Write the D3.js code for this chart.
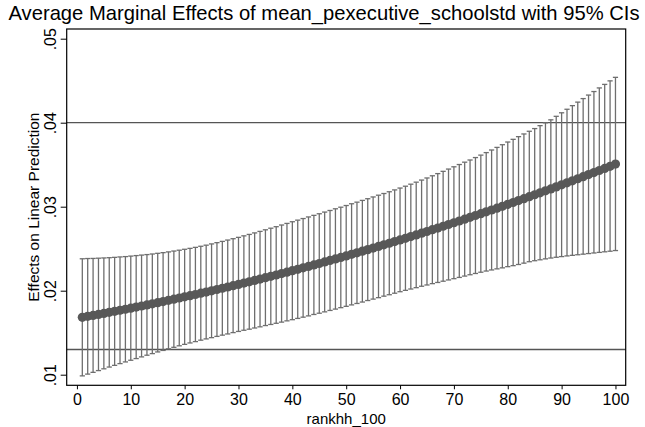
<!DOCTYPE html>
<html><head><meta charset="utf-8">
<script src="https://cdn.jsdelivr.net/npm/d3@7"></script>
<style>
html,body{margin:0;padding:0;background:#fff;}
text{font-family:"Liberation Sans",Arial,Helvetica,sans-serif;fill:#000;}
</style></head>
<body><svg id="chart" width="645" height="427"></svg>
<script>
const xValues = d3.range(1, 101);
const estimate = [0.01683,0.01695,0.01706,0.01718,0.01730,0.01742,0.01754,0.01767,0.01779,0.01792,
0.01805,0.01818,0.01831,0.01844,0.01858,0.01871,0.01885,0.01899,0.01913,0.01927,
0.01941,0.01955,0.01970,0.01984,0.01999,0.02014,0.02029,0.02044,0.02060,0.02075,
0.02091,0.02106,0.02122,0.02138,0.02155,0.02171,0.02187,0.02204,0.02221,0.02238,
0.02255,0.02272,0.02289,0.02307,0.02324,0.02342,0.02360,0.02378,0.02396,0.02414,
0.02433,0.02451,0.02470,0.02489,0.02508,0.02527,0.02546,0.02565,0.02585,0.02605,
0.02624,0.02644,0.02664,0.02685,0.02705,0.02726,0.02746,0.02767,0.02788,0.02809,
0.02830,0.02852,0.02873,0.02895,0.02917,0.02939,0.02961,0.02983,0.03005,0.03028,
0.03050,0.03073,0.03096,0.03119,0.03142,0.03165,0.03189,0.03212,0.03236,0.03260,
0.03284,0.03308,0.03333,0.03357,0.03382,0.03406,0.03431,0.03456,0.03481,0.03507];
const ciLower = [0.00986,0.01007,0.01028,0.01049,0.01070,0.01091,0.01111,0.01132,0.01152,0.01172,
0.01192,0.01212,0.01232,0.01251,0.01271,0.01289,0.01308,0.01326,0.01344,0.01361,
0.01378,0.01394,0.01411,0.01426,0.01441,0.01456,0.01471,0.01485,0.01501,0.01515,
0.01529,0.01542,0.01556,0.01570,0.01585,0.01598,0.01612,0.01626,0.01641,0.01655,
0.01670,0.01685,0.01700,0.01717,0.01732,0.01748,0.01765,0.01781,0.01798,0.01814,
0.01831,0.01848,0.01865,0.01883,0.01900,0.01917,0.01935,0.01952,0.01970,0.01988,
0.02004,0.02020,0.02036,0.02053,0.02068,0.02084,0.02098,0.02113,0.02128,0.02143,
0.02158,0.02174,0.02190,0.02205,0.02220,0.02234,0.02247,0.02260,0.02272,0.02286,
0.02298,0.02312,0.02328,0.02345,0.02357,0.02368,0.02379,0.02389,0.02398,0.02406,
0.02414,0.02421,0.02428,0.02435,0.02442,0.02449,0.02456,0.02463,0.02470,0.02478];
const ciUpper = [0.02380,0.02383,0.02384,0.02387,0.02390,0.02393,0.02397,0.02402,0.02406,0.02412,
0.02418,0.02424,0.02430,0.02437,0.02445,0.02453,0.02462,0.02472,0.02482,0.02493,
0.02504,0.02516,0.02529,0.02542,0.02557,0.02572,0.02587,0.02603,0.02619,0.02635,
0.02653,0.02670,0.02688,0.02706,0.02725,0.02744,0.02762,0.02782,0.02801,0.02821,
0.02840,0.02859,0.02878,0.02897,0.02916,0.02936,0.02955,0.02975,0.02994,0.03014,
0.03035,0.03054,0.03075,0.03095,0.03116,0.03137,0.03157,0.03178,0.03200,0.03222,
0.03244,0.03268,0.03292,0.03317,0.03342,0.03368,0.03394,0.03421,0.03448,0.03475,
0.03502,0.03530,0.03556,0.03585,0.03614,0.03644,0.03675,0.03706,0.03738,0.03770,
0.03802,0.03834,0.03866,0.03898,0.03930,0.03965,0.03999,0.04034,0.04076,0.04118,
0.04160,0.04203,0.04245,0.04287,0.04329,0.04371,0.04414,0.04456,0.04498,0.04540];
const refLines = [0.04, 0.013];
const xTicks = [0,10,20,30,40,50,60,70,80,90,100];
const yTicks = [0.01,0.02,0.03,0.04,0.05];
const yTickLabels = [".01",".02",".03",".04",".05"];

const svg = d3.select("#chart");
const L = 66.7, R = 625.7, T = 29, B = 385.3;
const x = d3.scaleLinear().domain([-1.9, 101.9]).range([L, R]);
const y = d3.scaleLinear().domain([0.008738, 0.051155]).range([B, T]);

const data = xValues.map((v,i)=>({x:v, e:estimate[i], lo:ciLower[i], hi:ciUpper[i]}));

// title
svg.append("text").attr("x", 324).attr("y", 20).attr("text-anchor","middle")
  .style("font-size","20.2px").text("Average Marginal Effects of mean_pexecutive_schoolstd with 95% CIs");

// reference lines
svg.selectAll("line.ref").data(refLines).enter().append("line")
  .attr("x1", L).attr("x2", R).attr("y1", d=>y(d)).attr("y2", d=>y(d))
  .attr("stroke","#555").attr("stroke-width",1.3);

// error bars
const eb = svg.append("g").attr("stroke","#6e6e6e").attr("stroke-width",1.3);
eb.selectAll("line.v").data(data).enter().append("line")
  .attr("x1", d=>x(d.x)).attr("x2", d=>x(d.x)).attr("y1", d=>y(d.lo)).attr("y2", d=>y(d.hi));
eb.selectAll("line.ch").data(data).enter().append("line")
  .attr("x1", d=>x(d.x)-2.6).attr("x2", d=>x(d.x)+2.6).attr("y1", d=>y(d.hi)).attr("y2", d=>y(d.hi));
eb.selectAll("line.cl").data(data).enter().append("line")
  .attr("x1", d=>x(d.x)-2.6).attr("x2", d=>x(d.x)+2.6).attr("y1", d=>y(d.lo)).attr("y2", d=>y(d.lo));

// markers
svg.append("g").selectAll("circle").data(data).enter().append("circle")
  .attr("cx", d=>x(d.x)).attr("cy", d=>y(d.e)).attr("r", 4.6).attr("fill","#585858");

// frame
svg.append("rect").attr("x",L).attr("y",T).attr("width",R-L).attr("height",B-T)
  .attr("fill","none").attr("stroke","#000").attr("stroke-width",1.2);

// x axis
const xa = svg.append("g").attr("transform",`translate(0,${B})`)
  .call(d3.axisBottom(x).tickValues(xTicks).tickSize(4).tickPadding(4).tickFormat(d3.format("d")));
xa.select(".domain").remove();
xa.selectAll("text").style("font-size","16px").attr("fill","#000");
xa.selectAll("line").attr("stroke","#000");

// y axis
const ya = svg.append("g").attr("transform",`translate(${L},0)`)
  .call(d3.axisLeft(y).tickValues(yTicks).tickSize(6).tickFormat((d,i)=>yTickLabels[i]));
ya.select(".domain").remove();
ya.selectAll("line").attr("stroke","#000");
ya.selectAll("text").style("font-size","16px").attr("fill","#000")
  .attr("x",null).attr("dy",null).attr("text-anchor","middle")
  .attr("transform","translate(-11,0) rotate(-90)").attr("dy","0");

// axis titles
svg.append("text").attr("x", (L+R)/2).attr("y", 424).attr("text-anchor","middle")
  .style("font-size","15px").text("rankhh_100");
svg.append("text").attr("transform",`translate(39,${(T+B)/2}) rotate(-90)`).attr("text-anchor","middle")
  .style("font-size","15.5px").text("Effects on Linear Prediction");
</script></body></html>
